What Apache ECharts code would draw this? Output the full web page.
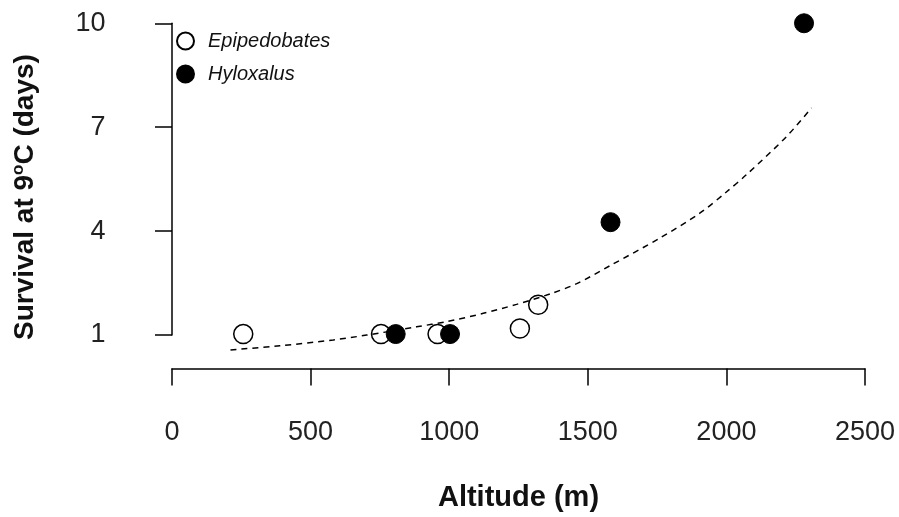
<!DOCTYPE html>
<html>
<head>
<meta charset="utf-8">
<script src="https://cdn.jsdelivr.net/npm/echarts@6/dist/echarts.min.js"></script>
<style>
html,body{margin:0;padding:0;background:#fff;}
#chart{width:899px;height:517px;}
</style>
</head>
<body>
<div id="chart"></div>
<script>
// ---- data ----
const epiAltitude = [257, 754, 958, 1255, 1321];
const epiSurvival = [1, 1, 1, 1.16, 1.85];
const hyloAltitude = [807, 1003, 1582, 2280];
const hyloSurvival = [1, 1, 4.24, 10];
const fitAltitude = [211, 389, 582, 702, 882, 991, 1123, 1243, 1363, 1460, 1580, 1760, 1904, 2001, 2073, 2217, 2307];
const fitSurvival = [0.54, 0.66, 0.83, 0.97, 1.21, 1.36, 1.60, 1.86, 2.16, 2.46, 2.98, 3.78, 4.50, 5.12, 5.62, 6.72, 7.55];
const xTicks = [0, 500, 1000, 1500, 2000, 2500];
const yTicks = [1, 4, 7, 10];
const seriesNames = ['Epipedobates', 'Hyloxalus'];
const xTitle = 'Altitude (m)';

const pairs = (xs, ys) => xs.map((x, i) => [x, ys[i]]);
const FONT = "'Liberation Sans', Arial, sans-serif";

const chart = echarts.init(document.getElementById('chart'), null, {renderer: 'canvas'});
chart.setOption({
  backgroundColor: '#ffffff',
  animation: false,
  textStyle: {fontFamily: FONT},
  grid: [
    {left: 172, right: 34, top: 6, bottom: 147.4},
    {left: 172, right: 34, top: 23.3, bottom: 182}
  ],
  xAxis: [
    {
      gridIndex: 0, type: 'value', min: xTicks[0], max: xTicks[xTicks.length - 1], interval: 500,
      position: 'bottom', offset: 10.4,
      axisLine: {show: true, lineStyle: {color: '#000', width: 1.5}},
      axisTick: {show: true, length: 17, lineStyle: {color: '#000', width: 1.5}},
      axisLabel: {show: true, margin: 40, fontSize: 27, color: '#222', fontFamily: FONT,
                  formatter: v => String(v)},
      splitLine: {show: false},
      name: xTitle, nameLocation: 'middle', nameGap: 104,
      nameTextStyle: {fontSize: 29, fontWeight: 'bold', color: '#111', fontFamily: FONT}
    },
    {gridIndex: 1, type: 'value', min: 0, max: 2500, show: false}
  ],
  yAxis: [
    {gridIndex: 0, type: 'value', min: 0, max: 10.5, show: false},
    {
      gridIndex: 1, type: 'value', min: yTicks[0], max: yTicks[yTicks.length - 1], interval: 3,
      position: 'left', offset: 30.4,
      axisLine: {show: true, lineStyle: {color: '#000', width: 1.5}},
      axisTick: {show: true, length: 17, lineStyle: {color: '#000', width: 1.5}},
      axisLabel: {show: true, margin: 36, fontSize: 27, color: '#222', fontFamily: FONT,
                  formatter: v => String(v)},
      splitLine: {show: false}
    }
  ],
  legend: {
    data: seriesNames,
    orient: 'vertical',
    left: 176, top: 31,
    padding: 0,
    itemWidth: 17, itemHeight: 17, itemGap: 13,
    textStyle: {fontSize: 20, fontStyle: 'italic', color: '#111', fontFamily: FONT, padding: [0, 0, 0, 9]}
  },
  graphic: [{
    type: 'text',
    x: 25, y: 197,
    rotation: Math.PI / 2,
    style: {
      text: '{a|Survival at 9}{s|o}{a|C (days)}',
      align: 'center',
      verticalAlign: 'middle',
      fill: '#111',
      rich: {
        a: {fontSize: 28, fontWeight: 'bold', fontFamily: FONT, fill: '#111', color: '#111', lineHeight: 30},
        s: {fontSize: 17, fontWeight: 'bold', fontFamily: FONT, fill: '#111', color: '#111', verticalAlign: 'top', lineHeight: 30, padding: [0, 0, 12, 0]}
      }
    }
  }],
  series: [
    {
      name: seriesNames[0], type: 'scatter', xAxisIndex: 0, yAxisIndex: 0,
      symbol: 'circle', symbolSize: 19, clip: false,
      itemStyle: {color: '#ffffff', borderColor: '#000', borderWidth: 1.5, opacity: 1},
      data: pairs(epiAltitude, epiSurvival), z: 2
    },
    {
      name: seriesNames[1], type: 'scatter', xAxisIndex: 0, yAxisIndex: 0,
      symbol: 'circle', symbolSize: 19, clip: false,
      itemStyle: {color: '#000', borderColor: '#000', borderWidth: 1, opacity: 1},
      data: pairs(hyloAltitude, hyloSurvival), z: 3
    },
    {
      name: 'fit', type: 'line', xAxisIndex: 0, yAxisIndex: 0,
      smooth: 0.3, showSymbol: false, symbol: 'none', clip: false,
      lineStyle: {color: '#000', width: 1.5, type: [6, 5]},
      data: pairs(fitAltitude, fitSurvival), z: 4, silent: true
    }
  ]
});
</script>
</body>
</html>
